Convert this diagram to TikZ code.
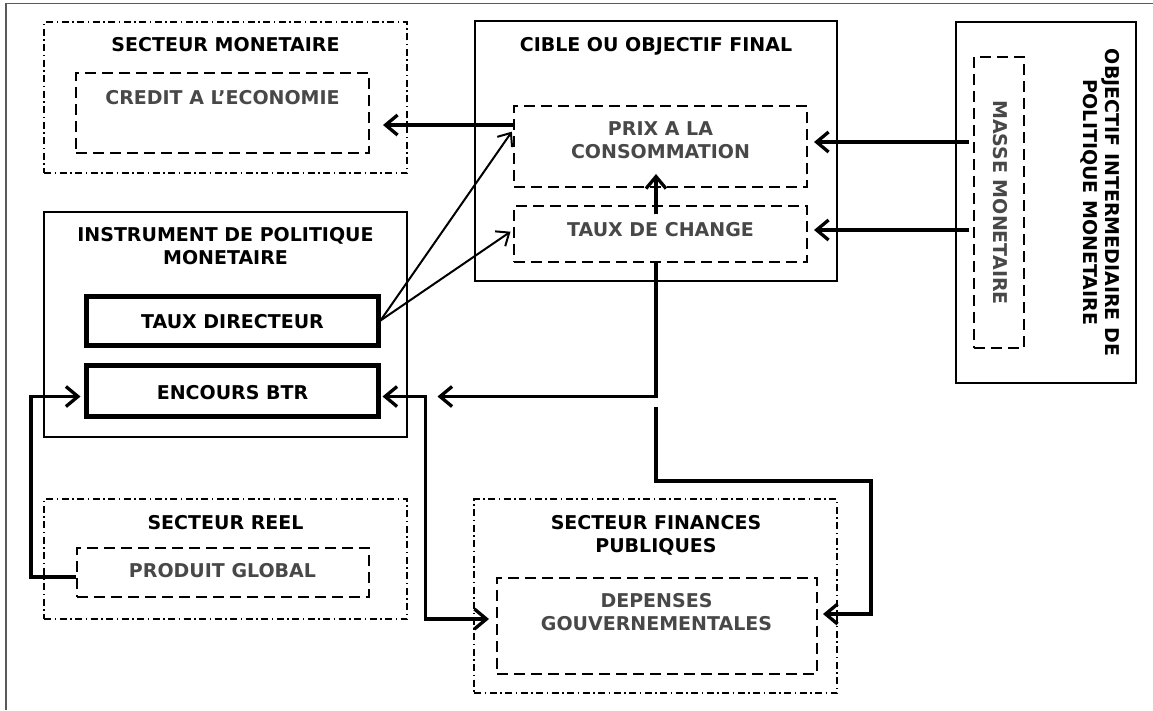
\documentclass[tikz,border=0pt]{standalone}
\usepackage{fontspec}
\setmainfont{DejaVu Sans}
\usepackage{xcolor}
\usepackage{tikz}
\usetikzlibrary{arrows.meta,calc}
\definecolor{gristxt}{RGB}{72,72,72}
\tikzset{
    cadre/.style={draw, line width=1.8pt, inner sep=0pt},
    secteur/.style={draw, line width=1.8pt, dash pattern=on 7pt off 3.5pt on 1.5pt off 3.5pt, inner sep=0pt},
    interne/.style={draw, line width=2pt, dash pattern=on 11pt off 6pt, inner sep=0pt},
    epais/.style={draw, line width=5pt, inner sep=0pt},
    titre/.style={anchor=base, align=center, inner sep=0pt, font=\bfseries\fontsize{19}{22.5}\selectfont},
    soustitre/.style={titre, text=gristxt},
    fleche/.style={line width=3.3pt, -{Straight Barb[length=12pt,width=20pt]}},
    fleche2/.style={line width=3.3pt, {Straight Barb[length=12pt,width=20pt]}-{Straight Barb[length=12pt,width=20pt]}},
    fine/.style={line width=2pt, -{Straight Barb[length=11pt,width=18pt]}}}

\begin{document}
\begin{tikzpicture}[x=1pt,y=-1pt]
\useasboundingbox (0,0) rectangle (1153,710);
\draw[line width=1.3pt, gray!70!black] (6,710) -- (6,3.5) -- (1153,3.5);
% secteur monetaire
\node[secteur, minimum width=363pt, minimum height=151pt] (SecMon) at (225.5,97.5) {};
\node[titre] (SecMonT) at (225.5,51.5) {SECTEUR MONETAIRE};
\node[interne, minimum width=293pt, minimum height=80pt] (Credit) at (222.5,113) {};
\node[soustitre] (CreditT) at (222.5,104) {CREDIT A L’ECONOMIE};
% cible
\node[cadre, minimum width=362pt, minimum height=260pt] (Cible) at (656,151) {};
\node[titre] (CibleT) at (656,51.5) {CIBLE OU OBJECTIF FINAL};
\node[interne, minimum width=293pt, minimum height=81pt] (Prix) at (660.5,146.5) {};
\node[soustitre] (PrixT) at (660.5,158) {PRIX A LA\\CONSOMMATION};
\node[interne, minimum width=293pt, minimum height=56pt] (Change) at (660.5,234) {};
\node[soustitre] (ChangeT) at (660.5,236) {TAUX DE CHANGE};
% objectif intermediaire
\node[cadre, minimum width=180pt, minimum height=361pt] (Obj) at (1046,202.5) {};
\node[titre, rotate=-90] (ObjT) at (1083,202.5) {OBJECTIF INTERMEDIAIRE DE\\POLITIQUE MONETAIRE};
\node[interne, minimum width=50pt, minimum height=291pt] (Masse) at (999,202.5) {};
\node[soustitre, rotate=-90] (MasseT) at (993,202.5) {MASSE MONETAIRE};
% instrument
\node[cadre, minimum width=363pt, minimum height=225pt] (Instr) at (225.5,324.5) {};
\node[titre] (InstrT) at (225.5,264) {INSTRUMENT DE POLITIQUE\\MONETAIRE};
\node[epais, minimum width=292pt, minimum height=49pt] (Directeur) at (232,320.5) {};
\node[titre] (DirecteurT) at (232.5,328) {TAUX DIRECTEUR};
\node[epais, minimum width=292pt, minimum height=51pt] (Encours) at (232,390.5) {};
\node[titre] (EncoursT) at (232.5,399) {ENCOURS BTR};
% secteur reel
\node[secteur, minimum width=363pt, minimum height=120pt] (Reel) at (225.5,559) {};
\node[titre] (ReelT) at (225.5,529) {SECTEUR REEL};
\node[interne, minimum width=292pt, minimum height=49pt] (Produit) at (223,572.5) {};
\node[soustitre] (ProduitT) at (222.5,577) {PRODUIT GLOBAL};
% finances publiques
\node[secteur, minimum width=363pt, minimum height=194pt] (Fin) at (655.5,596) {};
\node[titre] (FinT) at (656,552) {SECTEUR FINANCES\\PUBLIQUES};
\node[interne, minimum width=320pt, minimum height=96pt] (Depenses) at (657,626) {};
\node[soustitre] (DepensesT) at (656.5,630) {DEPENSES\\GOUVERNEMENTALES};
% connecteurs
\draw[fleche, shorten >=13pt] ([yshift=21.5pt]Prix.west) -- ([yshift=21.5pt]Prix.west -| Credit.east);
\draw[fleche, shorten >=6pt] ([xshift=-4pt,yshift=60.5pt]Masse.west) -- ([yshift=60.5pt]Masse.west -| Prix.east);
\draw[fleche, shorten >=6pt] ([xshift=-4pt,yshift=-27.5pt]Masse.west) -- ([yshift=-27.5pt]Masse.west -| Change.east);
\draw[fleche] ([xshift=-4.5pt,yshift=-9pt]Change.north) -- ([xshift=-4.5pt,yshift=14pt]Prix.south);
\draw[fine, shorten >=2pt] (Directeur.east) -- ([yshift=16.5pt]Prix.west);
\draw[fine, shorten >=3pt] (Directeur.east) -- ([yshift=4pt]Change.west);
\draw[fleche] ([xshift=-4.5pt]Change.south) |- ([xshift=57pt,yshift=-6pt]Encours.east);
\draw[fleche2, shorten <=2pt, shorten >=7pt] ([yshift=-6pt]Encours.east) -- ++(45,0) |- ([yshift=7pt]Depenses.west);
\draw[fleche, shorten >=5pt] ([xshift=-4.5pt,yshift=-144pt]Change.south) -- ++(0,74) -- ++(215,0) |- ([yshift=12pt]Depenses.east);
\draw[fleche, shorten >=3pt] ([yshift=-4.5pt]Produit.west) -- ++(-45,0) |- ([yshift=-6pt]Encours.west);
\end{tikzpicture}
\end{document}
